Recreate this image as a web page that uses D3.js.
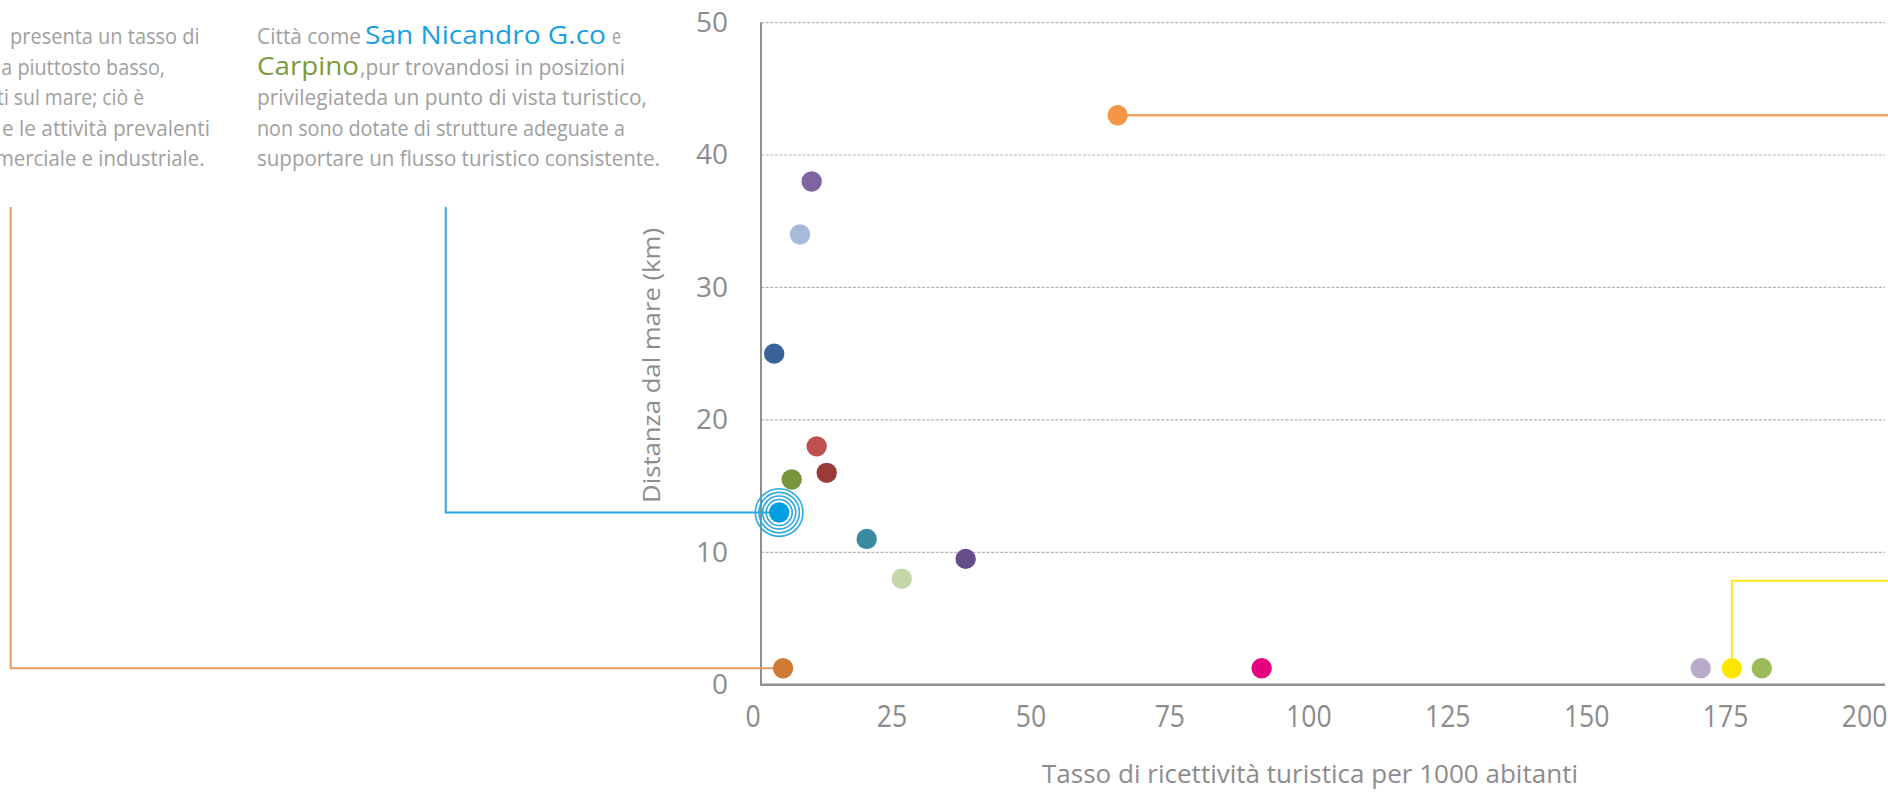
<!DOCTYPE html>
<html><head><meta charset="utf-8">
<script src="https://cdn.jsdelivr.net/npm/d3@7"></script>
<style>
html,body{margin:0;padding:0;background:#fff;overflow:hidden}
</style></head><body>
<svg id="chart" width="1888" height="796"></svg>
<script>
// ---------------- DATA ----------------
const xTicks = [0, 25, 50, 75, 100, 125, 150, 175, 200];
const yTicks = [0, 10, 20, 30, 40, 50];
// Tasso di ricettività turistica per 1000 abitanti
const tasso    = [5.5, 4.8, 7.05, 11.55, 13.35, 20.55, 26.85, 38.35, 3.9, 8.55, 10.65, 65.7, 91.6, 170.6, 176.2, 181.6];
// Distanza dal mare (km)
const distanza = [1.24, 13.0, 15.5, 18.0, 16.0, 11.0, 8.0, 9.5, 25.0, 34.0, 38.0, 43.0, 1.24, 1.24, 1.24, 1.24];
const colori   = ["#CF7B36", "#009FE3", "#77963D", "#C0504D", "#9A3B39", "#378BA3", "#C5D7A9", "#654E89",
                  "#38649A", "#A7BAD9", "#8063A1", "#F39646", "#E5007D", "#B8ABCA", "#FFE600", "#9BBB59"];
const highlighted = 1; // San Nicandro G.co (concentric rings)

const xTitle = "Tasso di ricettività turistica per 1000 abitanti";
const yTitle = "Distanza dal mare (km)";

// ---------------- LAYOUT ----------------
const W = 1888, H = 796;
const font = "'Open Sans','Noto Sans',sans-serif";
const grey = "#8c8c8c", lightGrey = "#a0a0a0";

const x = d3.scaleLinear().domain([0, 200]).range([752.5, 1864.1]);
const y = d3.scaleLinear().domain([0, 50]).range([684.7, 22.6]);
const axisX0 = 761, plotRight = 1885;

const svg = d3.select("#chart");
svg.append("rect").attr("width", W).attr("height", H).attr("fill", "#fff");

// gridlines
svg.append("g").selectAll("line").data(yTicks.filter(d => d > 0)).join("line")
  .attr("x1", axisX0).attr("x2", plotRight)
  .attr("y1", d => y(d)).attr("y2", d => y(d))
  .attr("stroke", "#b3b3b3").attr("stroke-width", 1.2).attr("stroke-dasharray", "3,1.6");

// axis lines
svg.append("line").attr("x1", axisX0).attr("x2", axisX0).attr("y1", y(50)).attr("y2", y(0) + 1)
  .attr("stroke", "#8f8f8f").attr("stroke-width", 2);
svg.append("line").attr("x1", axisX0 - 1).attr("x2", plotRight).attr("y1", y(0)).attr("y2", y(0))
  .attr("stroke", "#8f8f8f").attr("stroke-width", 2.4);

// y tick labels
const gy = svg.append("g").attr("transform", "translate(728,0)")
  .call(d3.axisLeft(y).tickValues(yTicks).tickSize(0).tickPadding(0).tickFormat(d3.format("d")));
gy.select(".domain").remove();
gy.selectAll("text").attr("font-family", font).attr("font-size", 28).attr("fill", grey);

// x tick labels (condensed look)
const gx = svg.append("g").attr("transform", `translate(0,${y(0)})`)
  .call(d3.axisBottom(x).tickValues(xTicks).tickSize(0).tickPadding(20).tickFormat(d3.format("d")));
gx.select(".domain").remove();
gx.selectAll("text").attr("font-family", font).attr("font-size", 31).attr("fill", grey)
  .attr("textLength", d => 15.2 * String(d).length).attr("lengthAdjust", "spacingAndGlyphs");

// axis titles
svg.append("text").text(xTitle).attr("x", 1042).attr("y", 783)
  .attr("font-family", font).attr("font-size", 25).attr("fill", grey)
  .attr("textLength", 536).attr("lengthAdjust", "spacingAndGlyphs");
svg.append("text").text(yTitle).attr("transform", "translate(660,503) rotate(-90)")
  .attr("font-family", font).attr("font-size", 23.5).attr("fill", grey)
  .attr("textLength", 275).attr("lengthAdjust", "spacingAndGlyphs");

// ---------------- connectors ----------------
const px = i => x(tasso[i]), py = i => y(distanza[i]);
const conn = svg.append("g").attr("fill", "none");
conn.append("path").attr("d", `M${px(0)},${py(0)} H10.7 V207`).attr("stroke", "#E59A5E").attr("stroke-width", 2);
conn.append("path").attr("d", `M${px(1)},${py(1)} H445.7 V207`).attr("stroke", "#29A9E1").attr("stroke-width", 2);
conn.append("path").attr("d", `M${px(11)},${py(11)} H${W}`).attr("stroke", "#F4A263").attr("stroke-width", 2.5);
conn.append("path").attr("d", `M${px(14)},${py(14)} V580.7 H${W}`).attr("stroke", "#FFE619").attr("stroke-width", 2);

// ---------------- rings + dots ----------------
svg.append("g").selectAll("circle").data([13, 16.6, 20.2, 23.8]).join("circle")
  .attr("cx", px(highlighted)).attr("cy", py(highlighted)).attr("r", d => d)
  .attr("fill", "none").attr("stroke", "#29A9E1").attr("stroke-width", 1.6);

svg.append("g").selectAll("circle").data(tasso.map((t, i) => i)).join("circle")
  .attr("cx", i => x(tasso[i])).attr("cy", i => y(distanza[i])).attr("r", 10.2)
  .attr("fill", i => colori[i]);

// ---------------- annotation texts ----------------
const ann = svg.append("g").attr("font-family", font).attr("fill", lightGrey).attr("font-size", 21.5);
const baselines = [44, 74.5, 105, 135.5, 166];
const seg = (t, xx, len, line, opts = {}) => {
  const e = ann.append("text").text(t).attr("x", xx).attr("y", baselines[line])
    .attr("textLength", len).attr("lengthAdjust", "spacingAndGlyphs");
  if (opts.fill) e.attr("fill", opts.fill);
  if (opts.size) e.attr("font-size", opts.size);
  return e;
};
// block 1 (cut by the left edge of the picture)
seg("presenta un tasso di", 10, 189.6, 0);
seg("a piuttosto basso,", 1.3, 163.7, 1);
seg("ti sul mare; ciò è", -3, 147, 2);
seg("e le attività prevalenti", 2, 208, 3);
seg("merciale e industriale.", -5, 209.5, 4);
// block 2
seg("Città come", 257, 104, 0);
seg("San Nicandro G.co", 365, 241, 0, {fill: "#1AA1DD", size: 25.5});
seg("e", 612, 9, 0);
seg("Carpino", 257, 102, 1, {fill: "#7A9A3C", size: 25.5});
seg(",pur trovandosi in posizioni", 360, 265, 1);
seg("privilegiateda un punto di vista turistico,", 257, 390, 2);
seg("non sono dotate di strutture adeguate a", 257, 368, 3);
seg("supportare un flusso turistico consistente.", 257, 403, 4);
</script>
</body></html>
